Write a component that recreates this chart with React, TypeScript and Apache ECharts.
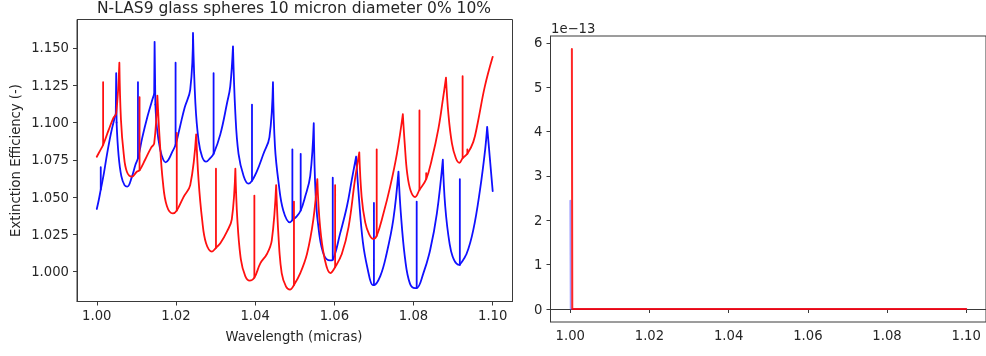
import React, { useEffect, useRef } from "react";
import * as echarts from "echarts";

// ---- Left subplot: extinction efficiency, 0% (blue) and 10% (red) ----
// Smooth scallop arcs between cusps (x = wavelength in µm, y = Qext)
const blueArcs: [number, number][][] = [
  [[1.0000,1.042],[1.0005,1.048],[1.0010,1.055],[1.0018,1.066],[1.0026,1.079],[1.0036,1.093],[1.0044,1.102],[1.0048,1.106]],
  [[1.0050,1.100],[1.0055,1.078],[1.0062,1.064],[1.0070,1.058],[1.0077,1.057],[1.0088,1.063],[1.0098,1.072],[1.0104,1.076],[1.0115,1.090],[1.0128,1.104],[1.0140,1.115],[1.0145,1.119]],
  [[1.0148,1.112],[1.0152,1.096],[1.0160,1.082],[1.0168,1.075],[1.0174,1.0733],[1.0181,1.075],[1.0190,1.080],[1.0199,1.085],[1.0210,1.097],[1.0222,1.110],[1.0236,1.122],[1.0243,1.160]],
  [[1.0243,1.160],[1.0249,1.113],[1.0257,1.088],[1.0266,1.077],[1.0276,1.0737],[1.0286,1.076],[1.0295,1.079],[1.0312,1.092],[1.0329,1.113],[1.0337,1.124],[1.0344,1.151]],
  [[1.0344,1.151],[1.0350,1.106],[1.0358,1.079],[1.0371,1.064],[1.0383,1.059],[1.0392,1.061],[1.0404,1.067],[1.0421,1.079],[1.0436,1.090],[1.0445,1.127]],
  [[1.0445,1.127],[1.0450,1.084],[1.0459,1.060],[1.0471,1.041],[1.0488,1.033],[1.0494,1.0345],[1.0505,1.037],[1.0515,1.041],[1.0526,1.050],[1.0539,1.064],[1.0548,1.0995]],
  [[1.0548,1.0995],[1.0553,1.050],[1.0562,1.025],[1.0574,1.011],[1.0589,1.0075],[1.0596,1.008],[1.0615,1.026],[1.0632,1.044],[1.0644,1.0615],[1.0655,1.077]],
  [[1.0655,1.077],[1.0662,1.050],[1.0672,1.020],[1.0684,1.002],[1.0697,0.991],[1.0700,0.991],[1.0716,0.997],[1.0732,1.012],[1.0749,1.035],[1.0762,1.067]],
  [[1.0762,1.067],[1.0768,1.039],[1.0779,1.008],[1.0791,0.992],[1.0804,0.989],[1.0808,0.989],[1.0825,0.999],[1.0842,1.0145],[1.0859,1.039],[1.0874,1.075]],
  [[1.0874,1.075],[1.0880,1.044],[1.0891,1.019],[1.0902,1.008],[1.0916,1.0045],[1.0917,1.0045],[1.0934,1.012],[1.0951,1.028],[1.0968,1.055],[1.0981,1.082],[1.0986,1.097]],
  [[1.0986,1.097],[1.1000,1.054]],
];
// Narrow resonance spikes
const blueSpikes: [number, number][][] = [
  [[1.0010,1.055],[1.0010,1.070]],
  [[1.0048,1.106],[1.0049,1.133],[1.0050,1.100]],
  [[1.0104,1.076],[1.0104,1.127]],
  [[1.0145,1.119],[1.0146,1.154],[1.0148,1.112]],
  [[1.0199,1.085],[1.0199,1.140]],
  [[1.0295,1.079],[1.0295,1.133]],
  [[1.0392,1.061],[1.0392,1.112]],
  [[1.0494,1.0345],[1.0494,1.082]],
  [[1.0515,1.041],[1.0515,1.079]],
  [[1.0596,1.008],[1.0596,1.063]],
  [[1.0700,0.991],[1.0700,1.046]],
  [[1.0808,0.989],[1.0808,1.047]],
  [[1.0917,1.0045],[1.0917,1.062]],
];

const redArcs: [number, number][][] = [
  [[1.0000,1.077],[1.0008,1.081],[1.0016,1.085],[1.0030,1.095],[1.0042,1.103],[1.0049,1.106],[1.0057,1.140]],
  [[1.0057,1.140],[1.0061,1.102],[1.0068,1.079],[1.0076,1.067],[1.0089,1.0637],[1.0101,1.067],[1.0108,1.068],[1.0122,1.075],[1.0137,1.083],[1.0145,1.086],[1.0153,1.118]],
  [[1.0153,1.118],[1.0159,1.088],[1.0167,1.060],[1.0177,1.044],[1.0192,1.039],[1.0202,1.041],[1.0219,1.050],[1.0236,1.058],[1.0251,1.092]],
  [[1.0251,1.092],[1.0257,1.0615],[1.0266,1.035],[1.0276,1.019],[1.0291,1.0134],[1.0301,1.016],[1.0312,1.019],[1.0329,1.027],[1.0341,1.035],[1.0350,1.069]],
  [[1.0350,1.069],[1.0355,1.035],[1.0364,1.008],[1.0375,0.997],[1.0386,0.994],[1.0398,0.996],[1.0413,1.0056],[1.0430,1.012],[1.0442,1.021],[1.0453,1.058]],
  [[1.0453,1.058],[1.0459,1.0235],[1.0467,0.999],[1.0478,0.990],[1.0488,0.988],[1.0498,0.991],[1.0514,0.999],[1.0531,1.012],[1.0547,1.035],[1.0557,1.062]],
  [[1.0557,1.062],[1.0564,1.030],[1.0576,1.008],[1.0590,0.999],[1.0602,1.003],[1.0619,1.012],[1.0636,1.030],[1.0652,1.0615],[1.0663,1.080]],
  [[1.0663,1.080],[1.0669,1.050],[1.0678,1.033],[1.0688,1.025],[1.0698,1.022],[1.0707,1.024],[1.0724,1.039],[1.0741,1.057],[1.0758,1.079],[1.0773,1.1055]],
  [[1.0773,1.1055],[1.0778,1.085],[1.0784,1.066],[1.0793,1.054],[1.0804,1.050],[1.0815,1.0548],[1.0832,1.062],[1.0846,1.075],[1.0863,1.096],[1.0875,1.117],[1.0882,1.130]],
  [[1.0882,1.130],[1.0888,1.106],[1.0897,1.086],[1.0907,1.076],[1.0916,1.073],[1.0924,1.076],[1.0936,1.079],[1.0951,1.087],[1.0962,1.0995],[1.0980,1.124],[1.1000,1.144]],
];
const redSpikes: [number, number][][] = [
  [[1.0016,1.085],[1.0016,1.127]],
  [[1.0108,1.068],[1.0108,1.117]],
  [[1.0202,1.041],[1.0202,1.093]],
  [[1.0301,1.016],[1.0301,1.069]],
  [[1.0398,0.996],[1.0398,1.051]],
  [[1.0498,0.991],[1.0498,1.047]],
  [[1.0602,1.003],[1.0602,1.058]],
  [[1.0707,1.024],[1.0707,1.082]],
  [[1.0815,1.0548],[1.0815,1.108]],
  [[1.0832,1.062],[1.0832,1.066]],
  [[1.0924,1.076],[1.0924,1.131]],
  [[1.0936,1.079],[1.0936,1.082]],
];

// ---- Right subplot (absolute values; axis shows a 1e-13 offset) ----
const blueRight: [number, number][] = [[1.0000, 2.44e-13], [1.0001, 0], [1.1000, 0]];
const redRight: [number, number][] = [[1.0004, 5.86e-13], [1.0005, 0], [1.1000, 0]];

const xTicks = [1.0, 1.02, 1.04, 1.06, 1.08, 1.1];
const yTicksLeft = [1.0, 1.025, 1.05, 1.075, 1.1, 1.125, 1.15];
const yTicksRight = [0, 1e-13, 2e-13, 3e-13, 4e-13, 5e-13, 6e-13];

const titleText = "N-LAS9 glass spheres 10 micron diameter 0% 10%";
const xLabelText = "Wavelength (micras)";
const yLabelText = "Extinction Efficiency (-)";
const offsetText = "1e\u221213";

const FONT = "DejaVu Sans";
const TXT = "#262626";
const SPINE = "#3a3a3a";
const BLUE = "#1010ff";
const RED = "#ff1010";
const FS = 13.2;

// join segments with '-' gaps so ECharts draws them as separate pieces
function joinSegments(segs: [number, number][][]): any[] {
  const out: any[] = [];
  segs.forEach((s, i) => {
    if (i > 0) out.push(["-", "-"]);
    s.forEach((p) => out.push(p));
  });
  return out;
}

export default function App() {
  const ref = useRef<HTMLDivElement>(null);
  useEffect(() => {
    if (!ref.current) return;
    const chart = echarts.init(ref.current, undefined, { renderer: "svg" });
    const axisCommon = {
      axisLine: { show: true, lineStyle: { color: SPINE, width: 1 } },
      splitLine: { show: false },
    };
    const tick = (vals: number[]) => ({ show: true, inside: false, length: 4, customValues: vals, lineStyle: { color: SPINE, width: 1 } });
    const label = (vals: number[], fmt: (v: number) => string, margin: number) => ({
      customValues: vals, formatter: fmt, color: TXT, fontFamily: FONT, fontSize: FS, margin,
    });
    const lineSeries = (xi: number, data: any[], color: string, width: number, smooth: number | boolean) => ({
      type: "line", xAxisIndex: xi, yAxisIndex: xi, data, showSymbol: false, symbol: "none",
      smooth, connectNulls: false, silent: true,
      lineStyle: { color, width, cap: "round", join: "round" }, itemStyle: { color },
    });
    chart.setOption({
      animation: false,
      grid: [
        { left: 77, top: 19.5, width: 435.5, height: 282, show: true, borderColor: SPINE, borderWidth: 1, backgroundColor: "#fff" },
        { left: 550.5, top: 36, width: 436, height: 286, show: true, borderColor: SPINE, borderWidth: 1, backgroundColor: "#fff" },
      ],
      xAxis: [
        { type: "value", gridIndex: 0, min: 0.995, max: 1.105, ...axisCommon, axisTick: tick(xTicks), axisLabel: label(xTicks, (v) => v.toFixed(2), 7) },
        { type: "value", gridIndex: 1, min: 0.995, max: 1.105, ...axisCommon, axisTick: tick(xTicks), axisLabel: label(xTicks, (v) => v.toFixed(2), 7) },
      ],
      yAxis: [
        { type: "value", gridIndex: 0, min: 0.980, max: 1.169, ...axisCommon, axisTick: tick(yTicksLeft), axisLabel: label(yTicksLeft, (v) => v.toFixed(3), 8) },
        { type: "value", gridIndex: 1, min: -0.293e-13, max: 6.153e-13, ...axisCommon, axisTick: tick(yTicksRight), axisLabel: label(yTicksRight, (v) => String(Math.round(v / 1e-13)), 8) },
      ],
      series: [
        lineSeries(0, joinSegments(blueArcs), BLUE, 1.8, 0.4),
        lineSeries(0, joinSegments(blueSpikes), BLUE, 1.8, false),
        lineSeries(0, joinSegments(redArcs), RED, 1.8, 0.4),
        lineSeries(0, joinSegments(redSpikes), RED, 1.8, false),
        lineSeries(1, blueRight, "rgba(60,60,255,0.5)", 1.8, false),
        lineSeries(1, redRight, "rgba(255,0,0,0.85)", 2, false),
      ],
      graphic: [
        { type: "text", x: 294, y: 8, style: { text: titleText, fontFamily: FONT, fontSize: 15.5, fill: TXT, align: "center", verticalAlign: "middle" } },
        { type: "text", x: 294, y: 336.5, style: { text: xLabelText, fontFamily: FONT, fontSize: FS, fill: TXT, align: "center", verticalAlign: "middle" } },
        { type: "text", x: 15, y: 160.5, rotation: Math.PI / 2, style: { text: yLabelText, fontFamily: FONT, fontSize: FS, fill: TXT, align: "center", verticalAlign: "middle" } },
        { type: "text", x: 551, y: 28.5, style: { text: offsetText, fontFamily: FONT, fontSize: FS, fill: TXT, align: "left", verticalAlign: "middle" } },
      ],
    });
    return () => chart.dispose();
  }, []);
  return <div ref={ref} style={{ position: "fixed", left: 0, top: 0, width: 986, height: 356 }} />;
}
